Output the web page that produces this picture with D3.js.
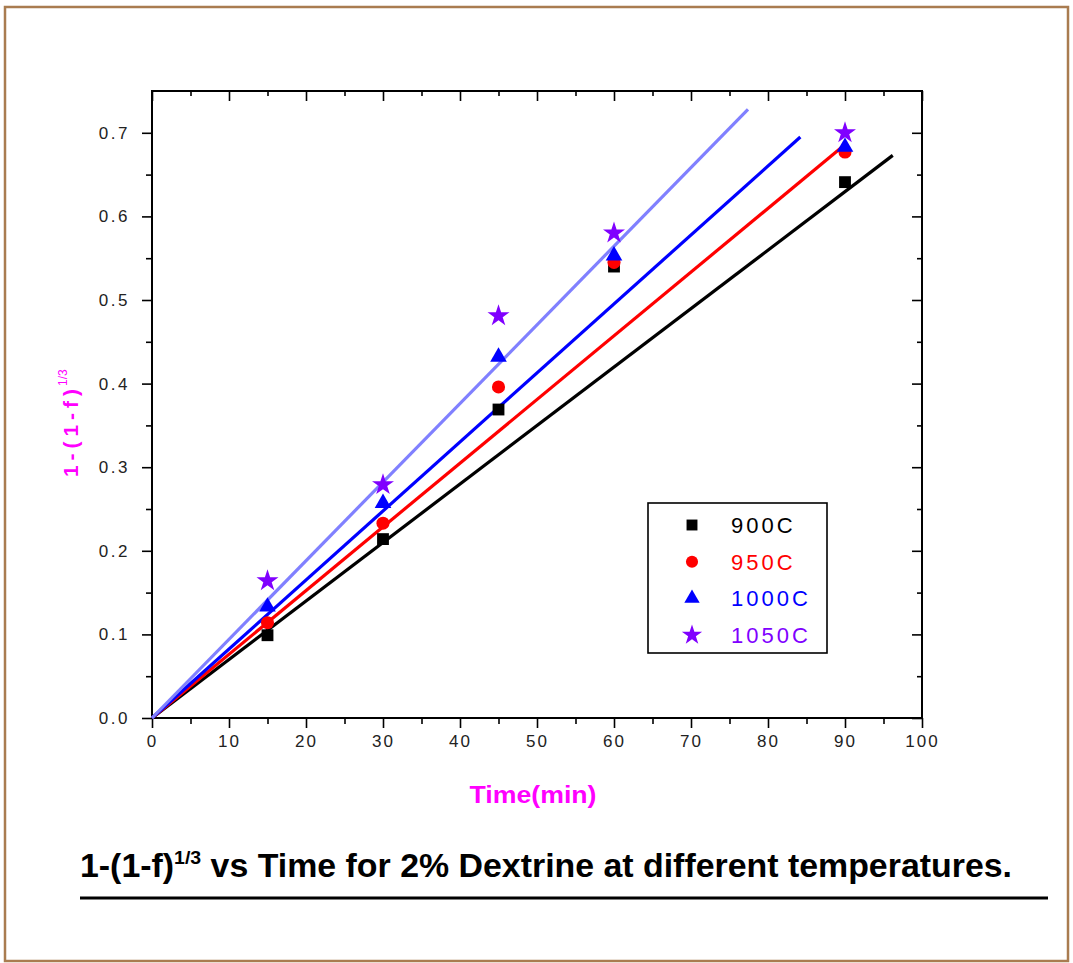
<!DOCTYPE html>
<meta charset="utf-8">
<style>
	body { margin: 0; background: #fff; }
	.tick text { font-family: "Liberation Sans", Arial, sans-serif; fill: #222; }
	.axis path.domain { display: none; }
	.axis line { stroke: #000; stroke-width: 1.6px; }
</style>
<svg width="1073" height="963"></svg>
<script src="https://d3js.org/d3.v7.min.js"></script>
<script>
	/**
	 *----------------------------------------------------------------------------
	 * data
	 *----------------------------------------------------------------------------
	 **/
	var times = [15, 30, 45, 60, 90];
	var temps = ["900C", "950C", "1000C", "1050C"];
	var y900 = [0.099, 0.214, 0.369, 0.540, 0.641];
	var y950 = [0.114, 0.233, 0.396, 0.545, 0.677];
	var y1000 = [0.133, 0.257, 0.432, 0.553, 0.683];
	var y1050 = [0.164, 0.279, 0.481, 0.580, 0.700];
	// fitted lines: start and end points
	var fit900 = [[0, 0], [96.2, 0.673]];
	var fit950 = [[0, 0], [89.5, 0.682]];
	var fit1000 = [[0, 0], [84.2, 0.695]];
	var fit1050 = [[0, 0], [77.4, 0.728]];
	var xTicks = [0, 10, 20, 30, 40, 50, 60, 70, 80, 90, 100];
	var yTicks = [0.0, 0.1, 0.2, 0.3, 0.4, 0.5, 0.6, 0.7];

	/**
	 *----------------------------------------------------------------------------
	 * definitions
	 *----------------------------------------------------------------------------
	 **/
	var plot = {left: 152, right: 922, top: 91, bottom: 718};
	var markerColor = ["#000000", "#ff0000", "#0000ff", "#8000ff"];
	var lineColor = ["#000000", "#ff0000", "#0000ff", "#8080ff"];
	var shapes = [d3.symbolSquare, d3.symbolCircle, d3.symbolTriangle, d3.symbolStar];
	var shapeSize = [140, 135, 120, 150];

	var series = temps.map(function(t, i) {
		var vals = [y900, y950, y1000, y1050][i];
		return {
			name: t,
			points: times.map(function(x, j) { return [x, vals[j]]; }),
			fit: [fit900, fit950, fit1000, fit1050][i],
			i: i
		};
	});

	var x = d3.scaleLinear().domain([0, 100]).range([plot.left, plot.right]);
	var y = d3.scaleLinear().domain([0, 0.75]).range([plot.bottom, plot.top]);

	var svg = d3.select("svg");

	// outer border
	svg.append("rect")
		.attr("x", 5).attr("y", 7)
		.attr("width", 1063).attr("height", 954)
		.attr("fill", "#fff")
		.attr("stroke", "#a97c50")
		.attr("stroke-width", 2.5);

	/**
	 *----------------------------------------------------------------------------
	 * axes
	 *----------------------------------------------------------------------------
	 **/
	var minorX = d3.range(5, 100, 10);
	var minorY = d3.range(0.05, 0.75, 0.1);

	// bottom
	svg.append("g").attr("class", "axis")
		.attr("transform", "translate(0," + plot.bottom + ")")
		.call(d3.axisBottom(x).tickValues(xTicks).tickSize(10).tickSizeOuter(0).tickPadding(7)
			.tickFormat(d3.format("d")))
		.selectAll("text")
			.attr("font-size", 17)
			.attr("letter-spacing", 2);
	svg.append("g").attr("class", "axis")
		.attr("transform", "translate(0," + plot.bottom + ")")
		.call(d3.axisBottom(x).tickValues(minorX).tickSize(6).tickSizeOuter(0).tickFormat(""));
	// left
	svg.append("g").attr("class", "axis")
		.attr("transform", "translate(" + plot.left + ",0)")
		.call(d3.axisLeft(y).tickValues(yTicks).tickSize(10).tickSizeOuter(0).tickPadding(12)
			.tickFormat(d3.format(".1f")))
		.selectAll("text")
			.attr("font-size", 17)
			.attr("letter-spacing", 2.5);
	svg.append("g").attr("class", "axis")
		.attr("transform", "translate(" + plot.left + ",0)")
		.call(d3.axisLeft(y).tickValues(minorY).tickSize(6).tickSizeOuter(0).tickFormat(""));
	// top (ticks inward)
	svg.append("g").attr("class", "axis")
		.attr("transform", "translate(0," + plot.top + ")")
		.call(d3.axisTop(x).tickValues(xTicks).tickSize(-10).tickSizeOuter(0).tickFormat(""));
	svg.append("g").attr("class", "axis")
		.attr("transform", "translate(0," + plot.top + ")")
		.call(d3.axisTop(x).tickValues(minorX).tickSize(-5).tickSizeOuter(0).tickFormat(""));
	// right (ticks inward)
	svg.append("g").attr("class", "axis")
		.attr("transform", "translate(" + plot.right + ",0)")
		.call(d3.axisRight(y).tickValues(yTicks).tickSize(-10).tickSizeOuter(0).tickFormat(""));
	svg.append("g").attr("class", "axis")
		.attr("transform", "translate(" + plot.right + ",0)")
		.call(d3.axisRight(y).tickValues(minorY).tickSize(-5).tickSizeOuter(0).tickFormat(""));

	// frame
	svg.append("rect")
		.attr("x", plot.left).attr("y", plot.top)
		.attr("width", plot.right - plot.left)
		.attr("height", plot.bottom - plot.top)
		.attr("fill", "none")
		.attr("stroke", "#000")
		.attr("stroke-width", 2);

	/**
	 *----------------------------------------------------------------------------
	 * lines and markers
	 *----------------------------------------------------------------------------
	 **/
	var line = d3.line()
		.x(function(d) { return x(d[0]); })
		.y(function(d) { return y(d[1]); });

	svg.append("g")
		.selectAll("path")
		.data(series)
		.enter().append("path")
			.attr("d", function(d) { return line(d.fit); })
			.attr("fill", "none")
			.attr("stroke", function(d) { return lineColor[d.i]; })
			.attr("stroke-width", 3.2);

	series.forEach(function(s) {
		svg.append("g")
			.selectAll("path")
			.data(s.points)
			.enter().append("path")
				.attr("transform", function(d) { return "translate(" + x(d[0]) + "," + y(d[1]) + ")"; })
				.attr("d", d3.symbol().type(shapes[s.i]).size(shapeSize[s.i]))
				.attr("fill", markerColor[s.i]);
	});

	/**
	 *----------------------------------------------------------------------------
	 * legend
	 *----------------------------------------------------------------------------
	 **/
	var legend = svg.append("g").attr("transform", "translate(648,503)");
	legend.append("rect")
		.attr("width", 179).attr("height", 150)
		.attr("fill", "#fff")
		.attr("stroke", "#000")
		.attr("stroke-width", 1.6);
	var row = legend.selectAll("g.row")
		.data(series)
		.enter().append("g")
			.attr("class", "row")
			.attr("transform", function(d, i) { return "translate(0," + (22 + i * 36.7) + ")"; });
	row.append("path")
		.attr("transform", "translate(44,0)")
		.attr("d", function(d) { return d3.symbol().type(shapes[d.i]).size(shapeSize[d.i] * 0.85)(); })
		.attr("fill", function(d) { return markerColor[d.i]; });
	row.append("text")
		.attr("x", 83)
		.attr("dy", "0.36em")
		.attr("font-family", "'Liberation Sans', Arial, sans-serif")
		.attr("font-size", 22)
		.attr("letter-spacing", 3)
		.attr("fill", function(d) { return markerColor[d.i]; })
		.text(function(d) { return d.name; });

	/**
	 *----------------------------------------------------------------------------
	 * labels
	 *----------------------------------------------------------------------------
	 **/
	svg.append("text")
		.attr("x", 533).attr("y", 803)
		.attr("text-anchor", "middle")
		.attr("font-family", "'Liberation Sans Narrow', 'Liberation Sans', Arial, sans-serif")
		.attr("font-weight", "bold")
		.attr("font-size", 23)
		.attr("textLength", 127)
		.attr("lengthAdjust", "spacingAndGlyphs")
		.attr("fill", "#ff00ff")
		.text("Time(min)");

	var ylab = svg.append("g").attr("transform", "translate(78,477) rotate(-90)");
	ylab.append("text")
		.attr("font-family", "'Liberation Sans', Arial, sans-serif")
		.attr("font-weight", "bold")
		.attr("font-size", 21)
		.attr("textLength", 88)
		.attr("lengthAdjust", "spacing")
		.attr("fill", "#ff00ff")
		.text("1-(1-f)");
	ylab.append("text")
		.attr("x", 91).attr("y", -11)
		.attr("font-family", "'Liberation Sans', Arial, sans-serif")
		.attr("font-size", 12)
		.attr("fill", "#ff00ff")
		.text("1/3");

	// caption
	var cap = svg.append("text")
		.attr("x", 80).attr("y", 877)
		.attr("font-family", "'Liberation Sans Narrow', 'Liberation Sans', Arial, sans-serif")
		.attr("font-weight", "bold")
		.attr("font-size", 33)
		.attr("textLength", 932)
		.attr("lengthAdjust", "spacingAndGlyphs")
		.attr("fill", "#000");
	cap.append("tspan").text("1-(1-f)");
	cap.append("tspan").attr("dy", -13).attr("font-size", 19).text("1/3");
	cap.append("tspan").attr("dy", 13).text(" vs Time for 2% Dextrine at different temperatures.");

	svg.append("line")
		.attr("x1", 80).attr("x2", 1048)
		.attr("y1", 898).attr("y2", 898)
		.attr("stroke", "#000")
		.attr("stroke-width", 3);
</script>
